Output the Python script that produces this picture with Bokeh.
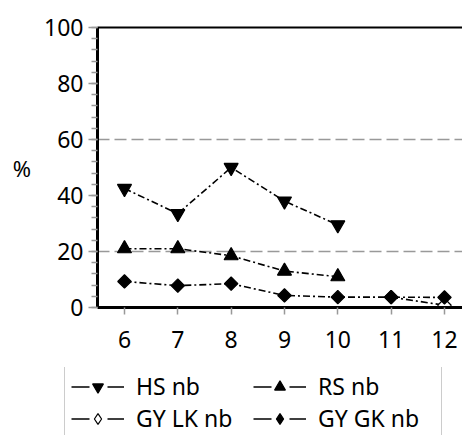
import math
from bokeh.plotting import figure
from bokeh.layouts import column
from bokeh.models import (Range1d, LinearAxis, SingleIntervalTicker, FixedTicker,
                          Legend, LegendItem)
from bokeh.embed import file_html
from bokeh.resources import INLINE

# ---- data ----
grades = [6, 7, 8, 9, 10, 11, 12]
hs_x = [6, 7, 8, 9, 10]
hs_nb = [42.5, 33.5, 50.0, 38.0, 29.5]
rs_x = [6, 7, 8, 9, 10]
rs_nb = [21.0, 21.0, 18.5, 13.0, 11.0]
gylk_x = [11, 12]
gylk_nb = [3.7, 0.8]
gygk_x = [6, 7, 8, 9, 10, 11, 12]
gygk_nb = [9.3, 7.8, 8.5, 4.3, 3.7, 3.7, 3.6]
series_names = ["HS nb", "RS nb", "GY LK nb", "GY GK nb"]
y_label = "%"

FONT = "Noto Sans"
W = 462
H_PLOT = 367
H_LEG = 435 - H_PLOT

p = figure(width=W, height=H_PLOT, output_backend="svg", toolbar_location=None,
           x_range=Range1d(5.494, 12.338), y_range=Range1d(0, 100),
           min_border_left=97, min_border_right=0, min_border_top=27,
           min_border_bottom=H_PLOT - 307)
p.outline_line_color = None
p.background_fill_color = "white"
p.border_fill_color = "white"

# axes
p.yaxis.ticker = SingleIntervalTicker(interval=20, num_minor_ticks=5)
p.xaxis.ticker = FixedTicker(ticks=grades)
for ax in (p.xaxis[0], p.yaxis[0]):
    ax.axis_line_color = "black"
    ax.axis_line_width = 3
    ax.major_tick_line_color = "#999999"
    ax.major_tick_line_width = 1.5
    ax.minor_tick_line_color = "#999999"
    ax.minor_tick_line_width = 1.5
    ax.major_tick_in = 0
    ax.minor_tick_in = 0
    ax.major_label_text_font = FONT
    ax.major_label_text_font_size = "23px"
    ax.major_label_text_color = "black"
p.yaxis.major_tick_out = 9
p.yaxis.minor_tick_out = 6
p.yaxis.major_label_standoff = 5
p.xaxis.major_tick_out = 7
p.xaxis.minor_tick_out = 0
p.xaxis.major_label_standoff = 16

p.yaxis.axis_label = y_label
p.yaxis.axis_label_orientation = "horizontal"
p.yaxis.axis_label_standoff = 10
p.yaxis.axis_label_text_font = FONT
p.yaxis.axis_label_text_font_size = "22px"
p.yaxis.axis_label_text_font_style = "normal"
p.yaxis.axis_label_text_color = "black"

top = LinearAxis(ticker=FixedTicker(ticks=[]), axis_line_color="black", axis_line_width=2,
                 major_tick_line_color=None, minor_tick_line_color=None,
                 major_tick_out=0, minor_tick_out=0, major_tick_in=0, minor_tick_in=0,
                 major_label_standoff=0)
p.add_layout(top, "above")

# grid
p.xgrid.visible = False
p.ygrid.ticker = FixedTicker(ticks=[20, 60])
p.ygrid.grid_line_color = "#999999"
p.ygrid.grid_line_width = 1.5
p.ygrid.grid_line_dash = "12 5"

# series
DASH = "7 3 2 3"
LW = 1.6
specs = [
    (hs_x, hs_nb, "inverted_triangle", 14, 0.0, "black"),
    (rs_x, rs_nb, "triangle", 14, 0.0, "black"),
    (gylk_x, gylk_nb, "square", 9.5, math.pi / 4, "white"),
    (gygk_x, gygk_nb, "square", 9.5, math.pi / 4, "black"),
]
for xs, ys, mk, sz, ang, fill in specs:
    p.line(xs, ys, line_color="black", line_width=LW, line_dash=DASH)
for xs, ys, mk, sz, ang, fill in specs:
    p.scatter(xs, ys, marker=mk, size=sz, angle=ang, fill_color=fill,
              line_color="black", line_width=1.2)

# legend panel (separate canvas below the plot)
lf = figure(width=W, height=H_LEG, output_backend="svg", toolbar_location=None,
            x_range=Range1d(0, 1), y_range=Range1d(0, 1),
            x_axis_type=None, y_axis_type=None,
            min_border_left=0, min_border_right=0, min_border_top=0, min_border_bottom=0)
if "frame_align" in lf.properties():
    lf.frame_align = False
    p.frame_align = False
lf.outline_line_color = None
lf.xgrid.visible = False
lf.ygrid.visible = False
lf.background_fill_color = "white"
lf.border_fill_color = "white"

leg_markers = ["inverted_triangle", "triangle", "diamond", "diamond"]
leg_sizes = [11, 11, 13, 13]
items = []
for (xs, ys, mk, sz, ang, fill), name, lmk, lsz in zip(specs, series_names, leg_markers, leg_sizes):
    lr = lf.line([-5, -4], [-5, -5], line_color="black", line_width=1.6, line_dash="18 18")
    sr = lf.scatter([-5], [-5], marker=lmk, size=lsz, fill_color=fill,
                    line_color="black", line_width=1.2)
    items.append(LegendItem(label=name, renderers=[lr, sr]))

PAD = 6
ITEM_H = 32
SP = -3
try:
    Legend(spacing=SP)
except Exception:
    SP = 0
LEG_H = 2 * PAD + 2 * ITEM_H + SP
leg_top = 368 - H_PLOT
leg = Legend(items=items, location=(64, H_LEG - leg_top - LEG_H),
             orientation="horizontal", ncols=2,
             glyph_width=53, glyph_height=27, label_height=27, label_width=117,
             label_standoff=12, spacing=SP, padding=PAD, margin=0,
             border_line_color="#999999", border_line_width=1.5,
             background_fill_color="white", background_fill_alpha=1.0,
             label_text_font=FONT, label_text_font_size="23px",
             label_text_color="black")
lf.add_layout(leg, "center")

layout = column(p, lf, spacing=0)
open("out.html", "w").write(file_html(layout, INLINE))
